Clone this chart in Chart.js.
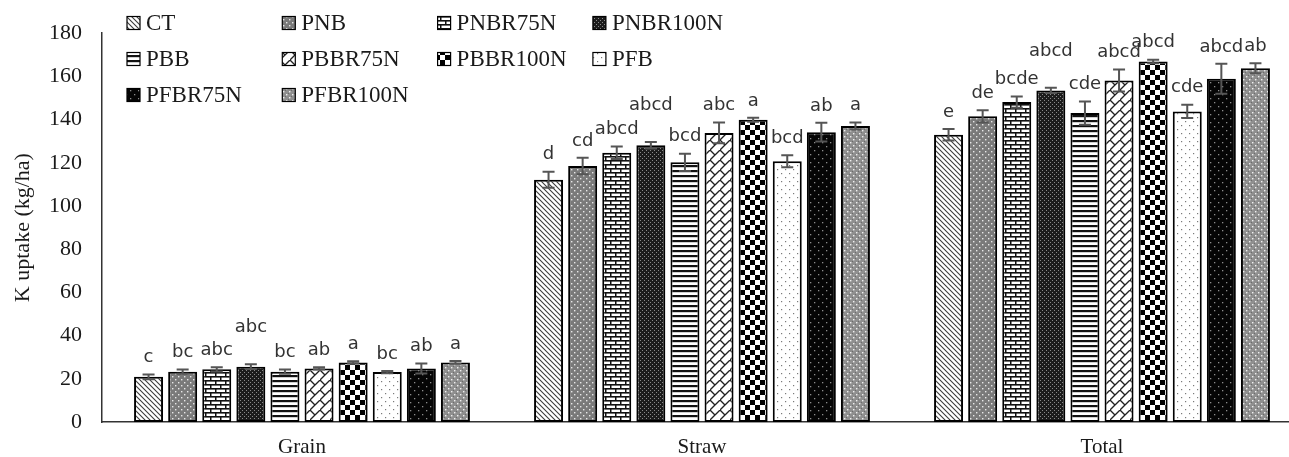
<!DOCTYPE html>
<html>
<head>
<meta charset="utf-8">
<script src="https://cdn.jsdelivr.net/npm/chart.js@4.4.1/dist/chart.umd.min.js"></script>
<style>
html, body { margin: 0; padding: 0; background: #fff; overflow: hidden; }
#wrap { position: relative; width: 1310px; height: 457px; }
</style>
</head>
<body>
<div id="wrap"><canvas id="chart"></canvas></div>
<script>
//K uptake per treatment, grouped by plant part. Means, error bars and
//significance letters.
const CATEGORIES = ['Grain', 'Straw', 'Total'];
const TREATMENTS = ['CT', 'PNB', 'PNBR75N', 'PNBR100N', 'PBB', 'PBBR75N', 'PBBR100N', 'PFB', 'PFBR75N', 'PFBR100N'];

const GRAIN_K = [20.9, 23.3, 24.4, 25.6, 23.3, 24.8, 27.6, 23.1, 24.8, 27.6];
const STRAW_K = [112.2, 118.5, 124.7, 128.1, 120.2, 133.8, 139.9, 120.7, 134.2, 137.0];
const TOTAL_K = [133.0, 141.5, 148.1, 153.5, 143.0, 158.1, 166.9, 143.8, 158.9, 163.8];

const GRAIN_ERR = [1.1, 1.0, 1.0, 1.1, 1.0, 0.5, 0.5, 0.5, 2.3, 0.6];
const STRAW_ERR = [3.7, 3.8, 2.9, 1.5, 4.0, 4.8, 0.9, 2.8, 4.3, 1.6];
const TOTAL_ERR = [2.7, 2.8, 2.6, 1.2, 5.4, 5.1, 0.8, 3.1, 6.9, 2.3];

const GRAIN_LETTERS = ['c', 'bc', 'abc', 'abc', 'bc', 'ab', 'a', 'bc', 'ab', 'a'];
const STRAW_LETTERS = ['d', 'cd', 'abcd', 'abcd', 'bcd', 'abc', 'a', 'bcd', 'ab', 'a'];
const TOTAL_LETTERS = ['e', 'de', 'bcde', 'abcd', 'cde', 'abcd', 'abcd', 'cde', 'abcd', 'ab'];

const Y_MIN = 0;
const Y_MAX = 180;
const Y_STEP = 20;

const SERIF = '"Liberation Serif", "Times New Roman", serif';
const SANS = '"DejaVu Sans", sans-serif';

//Small repeating tiles standing in for the Excel fill patterns.
function tile(w, h, paint)
{
    const c = document.createElement('canvas');
    c.width = w;
    c.height = h;
    const g = c.getContext('2d');
    paint(g, w, h);
    return g.createPattern(c, 'repeat');
}

function line(g, x1, y1, x2, y2)
{
    g.beginPath();
    g.moveTo(x1, y1);
    g.lineTo(x2, y2);
    g.stroke();
}

const PATTERNS = [
    //CT: fine down-right hatching
    tile(5, 5, (g) =>
    {
        g.fillStyle = '#fff'; g.fillRect(0, 0, 5, 5);
        g.strokeStyle = '#3a3a3a'; g.lineWidth = 1.1;
        line(g, -1, -1, 6, 6); line(g, -6, -1, 1, 6); line(g, 4, -1, 11, 6);
    }),
    //PNB: mid grey with white dots
    tile(6, 6, (g) =>
    {
        g.fillStyle = '#7a7a7a'; g.fillRect(0, 0, 6, 6);
        g.fillStyle = '#e8e8e8'; g.fillRect(1, 1, 1.4, 1.4); g.fillRect(4, 4, 1.4, 1.4);
    }),
    //PNBR75N: bricks
    tile(10, 8, (g) =>
    {
        g.fillStyle = '#fff'; g.fillRect(0, 0, 10, 8);
        g.fillStyle = '#111';
        g.fillRect(0, 0, 10, 1.6); g.fillRect(0, 4, 10, 1.6);
        g.fillRect(0, 0, 1.5, 4); g.fillRect(5, 4, 1.5, 4);
    }),
    //PNBR100N: near black, fine grey speckle
    tile(4, 4, (g) =>
    {
        g.fillStyle = '#1c1c1c'; g.fillRect(0, 0, 4, 4);
        g.fillStyle = '#8a8a8a'; g.fillRect(0, 0, 1, 1); g.fillRect(2, 2, 1, 1);
    }),
    //PBB: horizontal stripes
    tile(4, 5, (g) =>
    {
        g.fillStyle = '#fff'; g.fillRect(0, 0, 4, 5);
        g.fillStyle = '#111'; g.fillRect(0, 0, 4, 2.2);
    }),
    //PBBR75N: diagonal brick
    tile(10, 10, (g) =>
    {
        g.fillStyle = '#fff'; g.fillRect(0, 0, 10, 10);
        g.strokeStyle = '#222'; g.lineWidth = 1.3;
        line(g, -1, 11, 11, -1);
        line(g, 0, 0, 5, 5);
    }),
    //PBBR100N: checkerboard
    tile(10, 10, (g) =>
    {
        g.fillStyle = '#fff'; g.fillRect(0, 0, 10, 10);
        g.fillStyle = '#000'; g.fillRect(0, 0, 5, 5); g.fillRect(5, 5, 5, 5);
    }),
    //PFB: white, sparse grey dots
    tile(8, 8, (g) =>
    {
        g.fillStyle = '#fff'; g.fillRect(0, 0, 8, 8);
        g.fillStyle = '#7a7a7a'; g.fillRect(1, 1, 1.2, 1.2); g.fillRect(5, 5, 1.2, 1.2);
    }),
    //PFBR75N: black, sparse grey dots
    tile(8, 8, (g) =>
    {
        g.fillStyle = '#050505'; g.fillRect(0, 0, 8, 8);
        g.fillStyle = '#8c8c8c'; g.fillRect(2, 2, 1.3, 1.3); g.fillRect(6, 6, 1.3, 1.3);
    }),
    //PFBR100N: lighter grey, speckle and white dots
    tile(6, 6, (g) =>
    {
        g.fillStyle = '#8f8f8f'; g.fillRect(0, 0, 6, 6);
        g.fillStyle = '#6c6c6c'; g.fillRect(0, 3, 1, 1); g.fillRect(3, 0, 1, 1);
        g.fillStyle = '#f0f0f0'; g.fillRect(1, 1, 1.4, 1.4); g.fillRect(4, 4, 1.4, 1.4);
    }),
];

const datasets = TREATMENTS.map((name, i) => ({
    label: name,
    data: [GRAIN_K[i], STRAW_K[i], TOTAL_K[i]],
    errors: [GRAIN_ERR[i], STRAW_ERR[i], TOTAL_ERR[i]],
    letters: [GRAIN_LETTERS[i], STRAW_LETTERS[i], TOTAL_LETTERS[i]],
    backgroundColor: PATTERNS[i],
    borderColor: '#000',
    borderWidth: 2,
    borderSkipped: false,
    barPercentage: 0.85,
    categoryPercentage: 0.8525,
}));

//Error bars plus the significance letters above them.
const errorBars = {
    id: 'error-bars',
    afterDatasetsDraw(chart)
    {
        const ctx = chart.ctx;
        const ys = chart.scales.y;
        ctx.save();
        chart.data.datasets.forEach((ds, i) =>
        {
            const meta = chart.getDatasetMeta(i);
            meta.data.forEach((bar, j) =>
            {
                const v = ds.data[j];
                const e = ds.errors[j];
                const top = ys.getPixelForValue(v + e);
                const bot = ys.getPixelForValue(v - e);
                ctx.strokeStyle = '#555';
                ctx.lineWidth = 2;
                ctx.beginPath();
                ctx.moveTo(bar.x, top); ctx.lineTo(bar.x, bot);
                ctx.moveTo(bar.x - 6, top); ctx.lineTo(bar.x + 6, top);
                ctx.moveTo(bar.x - 6, bot); ctx.lineTo(bar.x + 6, bot);
                ctx.stroke();

                //PNBR100N letters were lifted clear of their neighbours
                const lift = i === 3 ? 20 : 0;
                ctx.fillStyle = '#333';
                ctx.font = '18px ' + SANS;
                ctx.textAlign = 'center';
                ctx.textBaseline = 'middle';
                ctx.fillText(ds.letters[j], bar.x, top - 17 - lift);
            });
        });
        ctx.restore();
    },
};

//Four-column legend sitting inside the plot, top left.
const gridLegend = {
    id: 'grid-legend',
    afterDraw(chart)
    {
        const ctx = chart.ctx;
        ctx.save();
        ctx.font = '23px ' + SERIF;
        ctx.textBaseline = 'middle';
        ctx.textAlign = 'left';
        chart.data.datasets.forEach((ds, i) =>
        {
            const x = 127 + (i % 4) * 155.3;
            const y = 23 + Math.floor(i / 4) * 36;
            ctx.fillStyle = ds.backgroundColor;
            ctx.fillRect(x, y - 6.5, 13, 13);
            ctx.strokeStyle = '#000';
            ctx.lineWidth = 1.2;
            ctx.strokeRect(x, y - 6.5, 13, 13);
            ctx.fillStyle = '#1a1a1a';
            ctx.fillText(ds.label, x + 19, y + 1);
        });
        ctx.restore();
    },
};

new Chart(document.getElementById('chart'), {
    type: 'bar',
    data: { labels: CATEGORIES, datasets },
    options: {
        responsive: true,
        maintainAspectRatio: false,
        animation: false,
        layout: { padding: { top: 33, right: 8, left: 0, bottom: 0 } },
        plugins: {
            legend: { display: false },
            tooltip: { enabled: false },
        },
        scales: {
            x: {
                grid: { display: false, drawTicks: false },
                border: { color: '#333', width: 1.5 },
                ticks: { color: '#1a1a1a', padding: 13, font: { family: SERIF, size: 21 } },
                afterFit: (s) => { s.height = 35; },
            },
            y: {
                min: Y_MIN,
                max: Y_MAX,
                grid: { display: false, drawTicks: false },
                border: { color: '#333', width: 1.5 },
                ticks: { stepSize: Y_STEP, color: '#1a1a1a', padding: 20, font: { family: SERIF, size: 22 } },
                title: {
                    display: true,
                    text: 'K uptake (kg/ha)',
                    color: '#1a1a1a',
                    font: { family: SERIF, size: 22 },
                    padding: { top: 10, bottom: 0 },
                },
                afterFit: (s) => { s.width = 102; },
            },
        },
    },
    plugins: [errorBars, gridLegend],
});
</script>
</body>
</html>
